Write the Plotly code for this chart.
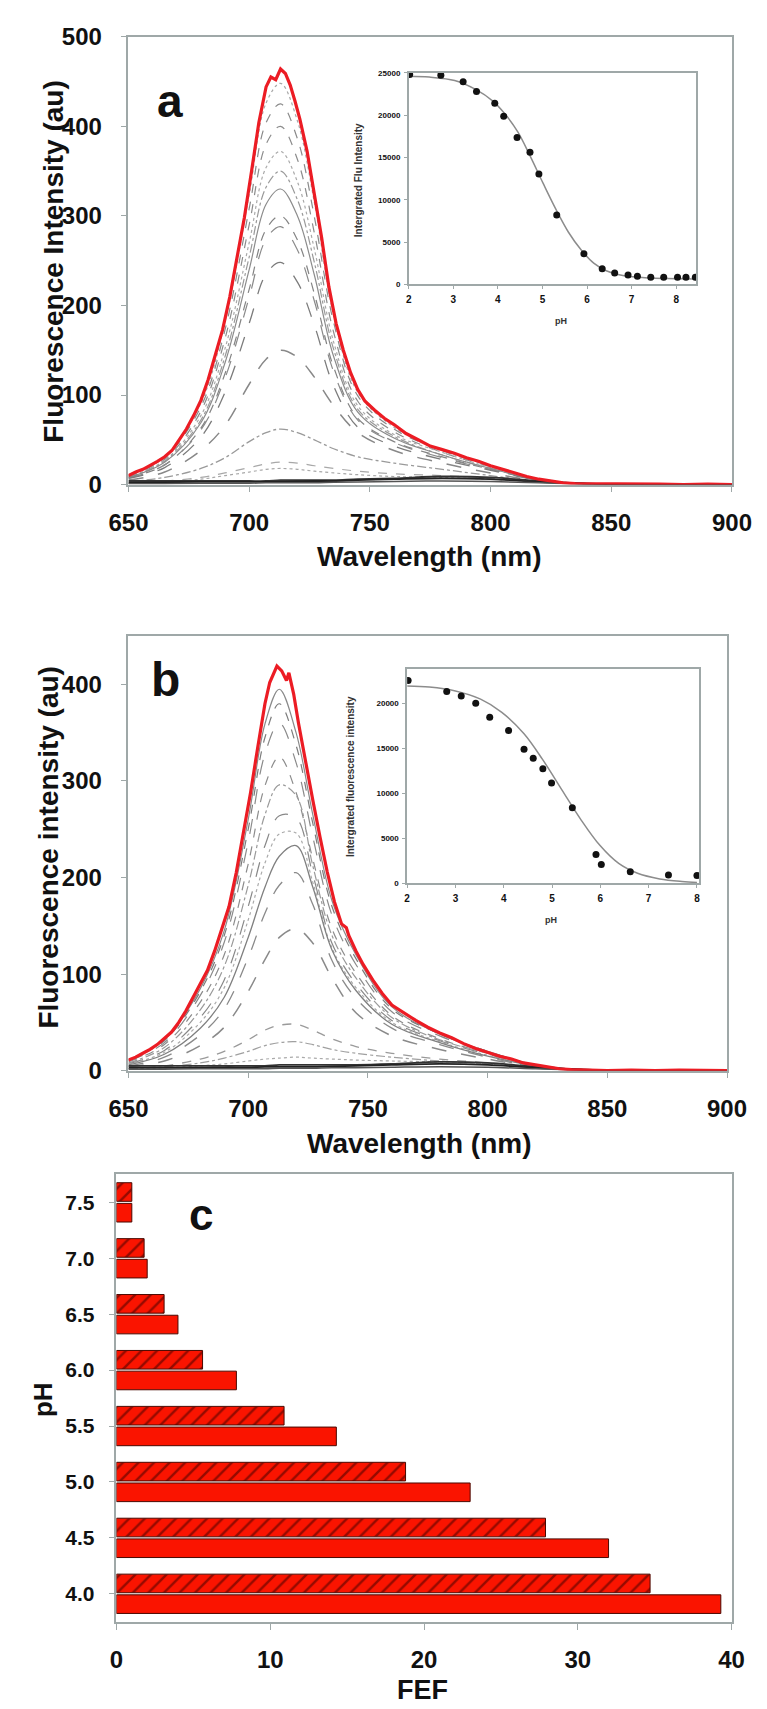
import plotly.graph_objects as go

W, H = 767, 1709
FONT = "Liberation Sans, Arial, sans-serif"
FRAME = "#9fa8a8"
RED = "#ec1c24"

# ---------------- Panel a: spectra ----------------
wl_red_a = [650, 653, 656, 659, 662, 665, 668, 671, 674, 677, 680, 683, 686, 689, 692, 695, 698, 701, 704, 707,
            709, 711, 713, 715, 717, 719, 721, 724, 727, 730, 733, 736, 739, 742, 745, 748, 752, 756, 760, 765,
            770, 775, 780, 785, 790, 795, 800, 805, 810, 815, 820, 825, 830, 835, 840, 850, 860, 870, 880, 890, 900]
int_red_a = [10, 14, 17, 21, 26, 31, 38, 50, 62, 77, 94, 117, 144, 173, 210, 254, 298, 350, 404, 444,
             455, 452, 464, 459, 446, 428, 408, 372, 325, 276, 221, 180, 150, 125, 106, 93, 83, 74, 67, 57,
             50, 43, 39, 35, 30, 26, 21, 17, 13, 9, 6, 4, 2, 1, 1, 1, 0.5, 0.5, 0, 0.5, 0]

wl_grid = [650, 665, 680, 690, 700, 707, 713, 720, 727, 735, 745, 760, 780, 800, 820, 840, 900]
a_448 = [10, 31, 91, 182, 324, 426, 448, 406, 315, 189, 103, 64, 38, 21, 6, 1, 0]
a_425 = [10, 30, 87, 173, 308, 404, 425, 386, 299, 181, 99, 62, 38, 21, 6, 1, 0]
a_400 = [9, 28, 82, 163, 290, 380, 400, 363, 281, 170, 93, 59, 36, 20, 6, 1, 0]
a_372 = [9, 27, 77, 152, 270, 354, 372, 338, 263, 159, 88, 56, 36, 19, 6, 1, 0]
a_350 = [8, 26, 72, 143, 254, 332, 350, 318, 248, 151, 84, 54, 33, 18, 5, 1, 0]
a_330 = [8, 25, 69, 136, 240, 313, 330, 300, 234, 143, 81, 52, 33, 18, 5, 1, 0]
a_300 = [8, 22, 63, 124, 218, 285, 300, 273, 213, 131, 74, 48, 31, 17, 5, 1, 0]
a_288 = [7, 22, 61, 119, 209, 274, 288, 262, 205, 126, 72, 47, 30, 17, 5, 1, 0]
a_248 = [7, 19, 53, 103, 180, 235, 248, 226, 178, 110, 64, 43, 28, 16, 5, 1, 0]
a_150 = [5, 14, 38, 66, 112, 140, 150, 142, 120, 88, 58, 38, 24, 13, 4, 1, 0]
a_62 = [3, 8, 18, 30, 48, 58, 62, 58, 50, 40, 31, 24, 17, 10, 3, 1, 0]
a_25 = [2, 4, 8, 13, 19, 23, 25, 24, 21, 18, 15, 12, 10, 7, 3, 1, 0]
a_18 = [2, 3, 6, 10, 14, 17, 18, 17, 15, 13, 11, 9, 8, 6, 3, 1, 0]
a_flat1 = [4, 4, 4, 4, 4, 4, 5, 5, 5, 5, 6, 7, 9, 8, 4, 1, 0]
a_flat2 = [2, 2.5, 3, 3, 3, 3, 3, 3.5, 4, 4, 5, 6, 7, 6, 3, 1, 0]
a_flat3 = [1, 1, 1.5, 1.5, 1.5, 2, 2, 2, 2, 2.5, 3, 3.5, 4, 3.5, 2, 0.5, 0]

# ---------------- Inset a ----------------
ph_pts_a = [2.02, 2.72, 3.22, 3.52, 3.93, 4.13, 4.43, 4.72, 4.92, 5.32, 5.93, 6.34, 6.62, 6.92, 7.13, 7.43,
            7.72, 8.03, 8.22, 8.43]
flu_pts_a = [24800, 24730, 23950, 22790, 21400, 19880, 17360, 15620, 13060, 8220, 3640, 1860, 1360, 1120, 970,
             850, 850, 850, 850, 850]
ph_fit_a = [2.0, 2.46, 3.03, 3.52, 3.88, 4.16, 4.45, 4.73, 5.01, 5.3, 5.58, 5.87, 6.15, 6.43, 6.72, 7.14, 7.78, 8.42]
flu_fit_a = [24600, 24500, 24100, 22990, 21700, 20150, 18000, 15100, 12000, 8900, 6200, 4070, 2520, 1630, 1160,
             850, 700, 660]

# ---------------- Panel b: spectra ----------------
wl_red_b = [650, 653, 656, 659, 662, 665, 668, 671, 674, 677, 680, 683, 686, 689, 692, 695, 698, 701, 704, 707,
            709, 711, 712, 714, 716, 717, 719, 721, 724, 727, 730, 733, 736, 739, 741, 742, 745, 748, 752, 756,
            760, 765, 770, 775, 780, 785, 790, 795, 800, 805, 810, 815, 820, 825, 830, 835, 840, 850, 860, 870,
            880, 890, 900]
int_red_b = [11, 14, 18, 22, 27, 33, 40, 50, 62, 76, 90, 104, 124, 146, 170, 205, 245, 288, 335, 380,
             402, 414, 419, 414, 404, 412, 390, 360, 318, 280, 242, 206, 175, 152, 148, 140, 124, 110, 94, 80,
             68, 60, 52, 45, 39, 34, 28, 23, 19, 15, 12, 8, 6, 4, 2, 1, 0.5, 0, 0.5, 0,
             0.5, 0, 0]

b_395 = [11, 32, 85, 145, 260, 359, 395, 350, 265, 176, 120, 66, 38, 20, 6, 1, 0]
b_380 = [11, 31, 82, 140, 250, 345, 380, 337, 256, 170, 116, 64, 38, 20, 6, 1, 0]
b_360 = [10, 29, 78, 133, 237, 328, 360, 319, 242, 161, 110, 61, 36, 19, 6, 1, 0]
b_325 = [9, 27, 71, 120, 214, 295, 325, 288, 219, 147, 101, 57, 33, 18, 5, 1, 0]
b_300 = [8, 24, 63, 108, 192, 265, 296, 285, 212, 140, 96, 55, 32, 18, 5, 1, 0]
b_270 = [7, 21, 55, 94, 170, 233, 264, 262, 203, 132, 90, 52, 31, 17, 5, 1, 0]
b_250 = [7, 19, 50, 86, 156, 215, 245, 246, 195, 127, 86, 50, 30, 16, 5, 1, 0]
b_233 = [6, 17, 44, 76, 138, 190, 222, 233, 190, 125, 83, 48, 29, 15, 5, 1, 0]
b_205 = [5, 14, 37, 64, 117, 163, 192, 205, 172, 114, 75, 44, 27, 14, 4, 1, 0]
b_147 = [4, 10, 26, 45, 82, 115, 138, 147, 132, 96, 60, 36, 22, 12, 4, 1, 0]
b_48 = [2, 5, 12, 20, 32, 42, 47, 48, 42, 33, 25, 18, 12, 8, 3, 1, 0]
b_30 = [2, 4, 8, 13, 20, 26, 29, 30, 27, 22, 18, 14, 10, 7, 3, 1, 0]
b_14 = [2, 3, 5, 7, 10, 12, 13, 14, 13, 12, 11, 10, 9, 7, 3, 1, 0]
b_flat1 = [5, 5, 5, 5, 5, 5, 6, 6, 6, 6, 6, 7, 9, 8, 4, 1, 0]
b_flat2 = [3, 3, 3, 3.5, 3.5, 4, 4, 4, 4, 4.5, 5, 6, 7, 6, 3, 1, 0]
b_flat3 = [1.5, 1.5, 2, 2, 2, 2, 2.5, 2.5, 2.5, 3, 3, 3.5, 4, 3.5, 2, 0.5, 0]

# ---------------- Inset b ----------------
ph_pts_b = [2.02, 2.82, 3.12, 3.42, 3.71, 4.10, 4.42, 4.61, 4.81, 4.99, 5.42, 5.91, 6.02, 6.62, 7.41, 8.0]
flu_pts_b = [22520, 21280, 20800, 20000, 18430, 16970, 14890, 13870, 12700, 11130, 8390, 3180, 2080, 1280,
             910, 840]
ph_fit_b = [2.0, 2.46, 3.0, 3.52, 3.96, 4.42, 4.81, 5.2, 5.59, 5.99, 6.38, 6.77, 7.23, 7.69, 8.0]
flu_fit_b = [21900, 21790, 21350, 20440, 18980, 16600, 13690, 10400, 7120, 4200, 2190, 1100, 475, 180, 70]

# ---------------- Panel c: FEF bars ----------------
ph_c = [4.0, 4.5, 5.0, 5.5, 6.0, 6.5, 7.0, 7.5]
fef_solid = [39.3, 32.0, 23.0, 14.3, 7.8, 4.0, 2.0, 1.0]
fef_hatched = [34.7, 27.9, 18.8, 10.9, 5.6, 3.1, 1.8, 1.0]

# styles for the grey family of spectra
styles_a = [
    (a_448, "dot", "#a8a8a8", 1.2), (a_425, "dash", "#8a8a8a", 1.2), (a_400, "dash", "#8c8c8c", 1.2),
    (a_372, "dot", "#aaaaaa", 1.2), (a_350, "dashdot", "#9a9a9a", 1.2), (a_330, "solid", "#8c8c8c", 1.2),
    (a_300, "dash", "#848484", 1.2), (a_288, "longdash", "#8a8a8a", 1.2), (a_248, "longdash", "#7c7c7c", 1.3),
    (a_150, "longdash", "#888888", 1.5), (a_62, "dashdot", "#9a9a9a", 1.3), (a_25, "dash", "#a8a8a8", 1.2),
    (a_18, "dot", "#a8a8a8", 1.2), (a_flat1, "solid", "#333333", 1.8), (a_flat2, "solid", "#222222", 1.8),
    (a_flat3, "solid", "#555555", 1.5),
]
styles_b = [
    (b_395, "solid", "#8a8a8a", 1.2), (b_380, "dash", "#7c7c7c", 1.2), (b_360, "longdash", "#8a8a8a", 1.2),
    (b_325, "dash", "#8c8c8c", 1.2), (b_300, "dashdot", "#9a9a9a", 1.2), (b_270, "longdash", "#888888", 1.2),
    (b_250, "dot", "#aaaaaa", 1.2), (b_233, "solid", "#808080", 1.3), (b_205, "longdash", "#8a8a8a", 1.3),
    (b_147, "longdash", "#8a8a8a", 1.5), (b_48, "dash", "#9a9a9a", 1.3), (b_30, "dashdot", "#a0a0a0", 1.2),
    (b_14, "dot", "#aaaaaa", 1.2), (b_flat1, "solid", "#333333", 1.8), (b_flat2, "solid", "#222222", 1.8),
    (b_flat3, "solid", "#555555", 1.5),
]


def dxp(a, b):
    return [a / W, b / W]


def dyp(top, bottom):
    return [1 - bottom / H, 1 - top / H]


fig = go.Figure()

# panel a
for ys, dash, col, w in styles_a:
    fig.add_trace(go.Scatter(x=wl_grid, y=ys, mode="lines", line=dict(color=col, dash=dash, width=w, shape="spline"),
                             xaxis="x", yaxis="y", showlegend=False, hoverinfo="skip"))
fig.add_trace(go.Scatter(x=wl_red_a, y=int_red_a, mode="lines", line=dict(color=RED, width=3.2),
                         xaxis="x", yaxis="y", showlegend=False))
# inset a
fig.add_trace(go.Scatter(x=ph_fit_a, y=flu_fit_a, mode="lines", line=dict(color="#8c8c8c", width=1.5, shape="spline"),
                         xaxis="x2", yaxis="y2", showlegend=False))
fig.add_trace(go.Scatter(x=ph_pts_a, y=flu_pts_a, mode="markers", marker=dict(color="#111", size=7),
                         xaxis="x2", yaxis="y2", showlegend=False))
# panel b
for ys, dash, col, w in styles_b:
    fig.add_trace(go.Scatter(x=wl_grid, y=ys, mode="lines", line=dict(color=col, dash=dash, width=w, shape="spline"),
                             xaxis="x3", yaxis="y3", showlegend=False, hoverinfo="skip"))
fig.add_trace(go.Scatter(x=wl_red_b, y=int_red_b, mode="lines", line=dict(color=RED, width=3.2),
                         xaxis="x3", yaxis="y3", showlegend=False))
# inset b
fig.add_trace(go.Scatter(x=ph_fit_b, y=flu_fit_b, mode="lines", line=dict(color="#8c8c8c", width=1.5, shape="spline"),
                         xaxis="x4", yaxis="y4", showlegend=False))
fig.add_trace(go.Scatter(x=ph_pts_b, y=flu_pts_b, mode="markers", marker=dict(color="#111", size=7),
                         xaxis="x4", yaxis="y4", showlegend=False))
# panel c
fig.add_trace(go.Bar(y=ph_c, x=fef_solid, orientation="h", xaxis="x5", yaxis="y5", showlegend=False,
                     marker=dict(color="#fa1400", line=dict(color="#4a0800", width=1))))
fig.add_trace(go.Bar(y=ph_c, x=fef_hatched, orientation="h", xaxis="x5", yaxis="y5", showlegend=False,
                     marker=dict(color="#fa1400", line=dict(color="#4a0800", width=1),
                                 pattern=dict(shape="/", fgcolor="#300000", bgcolor="#fa1400",
                                              size=11, solidity=0.22))))


def axis(domain, rng, anchor, size=24, **kw):
    d = dict(domain=domain, range=rng, anchor=anchor, showline=True, linecolor=FRAME, linewidth=1.6,
             mirror=True, ticks="outside", ticklen=6, tickcolor=FRAME, tickwidth=1.4, showgrid=False,
             zeroline=False, tickfont=dict(family=FONT, size=size, color="#111", weight="bold"))
    d.update(kw)
    return d


fig.update_layout(
    width=W, height=H, margin=dict(l=0, r=0, t=0, b=0),
    paper_bgcolor="white", plot_bgcolor="rgba(0,0,0,0)",
    barmode="group", bargap=0.26, bargroupgap=0.1,
    xaxis=axis(dxp(106, 742.7), [650, 900], "y", dtick=50, ticklabelstandoff=10),
    yaxis=axis(dyp(15, 470), [0, 500], "x", dtick=100, ticklabelstandoff=14),
    xaxis2=axis(dxp(401.7, 705), [2, 8.45], "y2", size=10, dtick=1, ticklen=3, ticklabelstandoff=2),
    yaxis2=axis(dyp(51.7, 266.7), [0, 25000], "x2", size=8, dtick=5000, tickformat="d", ticklen=3,
                ticklabelstandoff=2),
    xaxis3=axis(dxp(106, 737.5), [650, 900], "y3", dtick=50, ticklabelstandoff=10),
    yaxis3=axis(dyp(624, 1065.5), [0, 450], "x3", tickvals=[0, 100, 200, 300, 400], ticklabelstandoff=14),
    xaxis4=axis(dxp(400, 708.3), [2, 8.05], "y4", size=10, dtick=1, ticklen=3, ticklabelstandoff=2),
    yaxis4=axis(dyp(657.3, 875), [0, 23800], "x4", size=8, tickvals=[0, 5000, 10000, 15000, 20000],
                tickformat="d", ticklen=3, ticklabelstandoff=2),
    xaxis5=axis(dxp(93.3, 742.3), [0, 40], "y5", dtick=10, ticklabelstandoff=9),
    yaxis5=axis(dyp(1170, 1626), [3.745, 7.758], "x5", size=21, tickvals=ph_c, tickformat=".1f",
                ticklabelstandoff=10),
)


def note(text, x, y, size, angle=0, weight="bold", color="#111"):
    fig.add_annotation(text=text, x=x / W, y=1 - y / H, xref="paper", yref="paper", showarrow=False,
                       textangle=angle, xanchor="center", yanchor="middle",
                       font=dict(family=FONT, size=size, color=color, weight=weight))


note("Fluorescence Intensity (au)", 27, 243, 28, -90)
note("Wavelength (nm)", 424, 543, 28)
note("a", 150, 80, 46)
note("Intergrated Flu Intensity", 349, 161, 10, -90, color="#333")
note("pH", 562, 304, 9, color="#333")

note("Fluorescence intensity (au)", 22, 838, 28, -90)
note("Wavelength (nm)", 413, 1140, 28)
note("b", 145, 668, 48)
note("Intergrated fluorescence intensity", 341, 767, 10, -90, color="#333")
note("pH", 552, 912, 9, color="#333")

note("pH", 16, 1400, 26, -90)
note("FEF", 416, 1695, 27)
note("c", 183, 1212, 44)

fig.write_html("out.html")
